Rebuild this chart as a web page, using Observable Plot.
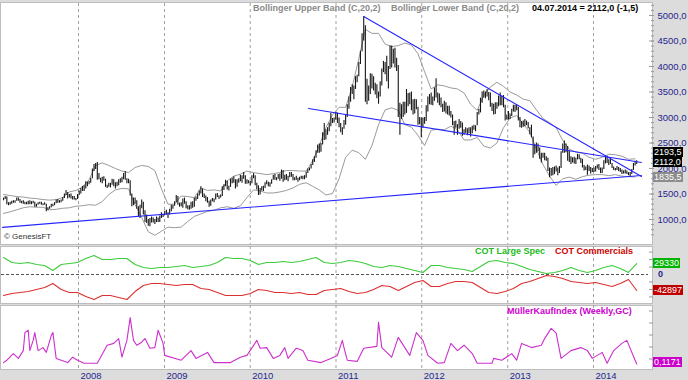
<!DOCTYPE html>
<html><head><meta charset="utf-8">
<script src="https://cdn.jsdelivr.net/npm/d3@7"></script>
<script src="https://cdn.jsdelivr.net/npm/@observablehq/plot@0.6"></script>
<style>
body{margin:0;background:#fff;font-family:"Liberation Sans",Arial,sans-serif}
#chart{position:relative;width:688px;height:380px;background:#dcdcdc;overflow:hidden}
.bg{position:absolute;left:0;width:653px;background:#fff;border:1px solid #bdbdbd;box-sizing:border-box}
.layer{position:absolute;left:0}
.t{position:absolute;white-space:nowrap;font-weight:bold;font-size:9px;line-height:10px}
.box{position:absolute;left:653px;height:10px;line-height:10px;font-size:9px;color:#fff;padding:0 1px;white-space:nowrap}
</style></head>
<body><div id="chart"></div>
<script>
// ---------- DATA ----------
const firstWeek = "2007-02-16";               // weekly bars, one per Friday
const weeklyLow = [
1370,1390,1290,1270,1280,1300,1320,1320,1360,1360,
1320,1310,1300,1290,1290,1290,1290,1290,1310,1240,
1240,1280,1300,1280,1270,1280,1150,1170,1200,1230,
1250,1270,1310,1320,1320,1330,1360,1410,1470,1400,
1420,1400,1380,1380,1370,1390,1470,1500,1550,1550,
1600,1640,1680,1710,1800,1940,1980,1770,1780,1720,
1700,1750,1630,1610,1630,1620,1670,1640,1600,1640,
1660,1710,1720,1780,1770,1700,1700,1460,1250,1270,
1300,1200,1050,1020,1210,1090,940,920,870,860,
930,930,900,940,940,940,1020,1040,1080,1090,
1020,1090,1150,1200,1260,1330,1280,1240,1250,1220,
1300,1210,1190,1180,1200,1220,1240,1360,1390,1460,
1500,1430,1410,1350,1320,1240,1260,1350,1330,1380,
1430,1390,1420,1450,1570,1640,1580,1560,1630,1700,
1710,1600,1630,1710,1740,1710,1790,1690,1690,1700,
1660,1700,1800,1660,1580,1470,1480,1560,1550,1610,
1680,1640,1630,1690,1770,1770,1760,1790,1750,1790,
1730,1760,1770,1740,1820,1830,1760,1760,1770,1730,
1760,1790,1780,1780,1810,1900,1950,1990,2060,2120,
2200,2300,2300,2320,2460,2550,2560,2650,2720,2820,
2880,2890,2950,2880,2800,2700,2650,2770,2850,3000,
3160,3300,3450,3350,3550,3680,3800,4040,4290,4500,
3300,3250,3320,3450,3560,3520,3440,3370,3260,3400,
3620,3880,3840,3700,3560,3940,3970,4050,3970,3900,
3000,2650,2960,3000,3050,3080,3210,3250,3130,3050,
3070,3150,2850,2860,2610,2790,2870,2920,3110,3250,
3240,3230,3320,3380,3280,3230,3190,3100,3110,3070,
3050,3030,2990,2840,2650,2790,2650,2770,2790,2630,
2650,2690,2640,2680,2620,2680,2750,2720,2840,3050,
3090,3280,3380,3370,3400,3330,3200,3120,3050,3060,
3160,3210,3230,3230,3190,2930,2950,2950,2960,3020,
3110,3100,3130,2930,2800,2790,2810,2820,2840,2780,
2660,2600,2200,2270,2300,2330,2180,2110,2200,2150,
2140,1940,1820,1850,1860,1880,1930,1860,1900,2000,
2300,2300,2310,2140,2120,2080,2110,2090,2080,2170,
2170,2100,2010,1950,1960,1870,1940,1890,1920,1920,
1930,1990,1960,1900,1900,1980,2090,2100,2060,2080,
2000,1960,1950,1960,1940,1920,1880,1890,1890,1880,
1860,1830,1880,1960,2050,2080];
const weeklyHigh = [
1420,1450,1440,1330,1340,1360,1370,1370,1420,1420,
1390,1360,1370,1340,1340,1360,1370,1350,1360,1340,
1300,1330,1340,1340,1310,1330,1300,1230,1250,1300,
1300,1330,1380,1390,1370,1380,1430,1500,1570,1530,
1490,1500,1450,1450,1410,1490,1560,1610,1650,1660,
1740,1730,1750,1810,1990,2080,2100,2120,1900,1810,
1830,1840,1790,1670,1710,1710,1790,1780,1720,1730,
1780,1800,1830,1900,1940,1800,1790,1760,1500,1420,
1420,1370,1250,1280,1380,1340,1170,1090,1000,1020,
1050,1030,1000,1050,1030,1070,1130,1100,1160,1180,
1130,1200,1280,1280,1350,1470,1450,1320,1330,1400,
1420,1350,1270,1270,1340,1350,1420,1440,1500,1560,
1640,1600,1500,1460,1430,1360,1380,1410,1400,1500,
1510,1460,1480,1640,1680,1770,1750,1650,1790,1810,
1840,1780,1780,1800,1870,1860,1920,1860,1780,1760,
1750,1860,1900,1860,1710,1660,1610,1640,1650,1720,
1760,1730,1720,1780,1870,1880,1820,1880,1890,1970,
1960,1870,1880,1850,1920,1920,1880,1820,1850,1810,
1830,1850,1850,1860,1930,1990,2010,2080,2170,2230,
2350,2460,2480,2490,2700,2880,2760,2800,2890,3080,
2980,2990,3100,3090,2990,2880,2800,2940,3050,3250,
3400,3590,3640,3620,3800,3830,4080,4300,4640,4980,
4800,3750,3620,3860,3850,3800,3670,3640,3500,3700,
3950,4100,4080,4200,4000,4400,4400,4340,4360,4160,
4020,3280,3250,3300,3300,3550,3470,3480,3500,3350,
3360,3350,3200,3000,2990,2990,3000,3230,3400,3450,
3480,3400,3580,3760,3480,3460,3380,3260,3320,3290,
3220,3220,3120,3050,2920,2930,2860,2960,2920,2890,
2760,2800,2780,2800,2800,2830,2850,2840,3100,3160,
3380,3500,3520,3500,3550,3490,3480,3280,3260,3290,
3290,3420,3480,3420,3430,3240,3050,3120,3070,3160,
3240,3240,3250,3200,3000,2920,2930,2960,2930,2900,
2800,2850,2620,2470,2500,2480,2400,2300,2300,2300,
2230,2200,2010,2000,2020,2030,2050,2010,2040,2330,
2480,2540,2480,2430,2350,2230,2210,2220,2200,2280,
2270,2200,2180,2060,2030,2070,2050,2020,2000,2010,
2040,2070,2080,2010,2010,2150,2230,2240,2170,2180,
2100,2030,2000,2040,2020,2000,1970,1950,1970,1950,
1920,1920,1980,2100,2140,2150];

// Bollinger bands (C,20,2), one value every 4 weeks
const bandStepWeeks = 4;
const bollUpper = [
1490,1470,1450,1440,1420,1410,1390,1380,1390,1430,
1540,1570,1640,1780,2060,2110,2060,2000,1950,1920,
2020,2060,2040,1960,1600,1300,1300,1460,1450,1430,
1620,1570,1580,1560,1760,1850,1890,1950,1920,1900,
1880,1900,1920,1960,1960,1950,1950,2150,2450,2800,
3050,3200,3200,3600,4150,4730,4650,4650,4440,4390,
4410,4460,4420,4250,3900,3560,3640,3620,3580,3560,
3480,3260,3140,3430,3600,3690,3610,3500,3440,3360,
3330,3150,2980,2900,2800,2550,2380,2320,2300,2220,
2180,2220,2280,2270,2240,2180,2190];
const bollLower = [
1120,1150,1190,1230,1250,1240,1240,1190,1200,1220,
1230,1260,1270,1290,1280,1350,1490,1580,1610,1600,
1290,1040,760,690,770,850,840,850,960,1060,
1110,1160,1180,1230,1250,1220,1270,1430,1580,1560,
1520,1520,1540,1570,1620,1690,1720,1650,1580,1480,
1510,1800,2220,2360,2310,2180,2450,2860,3150,3190,
3140,2860,2810,2650,2450,2750,2770,2760,2830,2760,
2560,2560,2610,2440,2400,2500,2800,2990,3040,2870,
2710,2380,2080,1850,1670,1800,1830,1790,1840,1870,
1880,1880,1860,1880,1850,1840,1835];

// trend lines: start / end
const trendNames  = ["support", "middle", "resistance"];
const trendStart  = ["2007-02-12", "2010-09-06", "2011-04-29"];
const trendEnd    = ["2014-07-24", "2014-07-24", "2014-07-24"];
const trendStartV = [845, 3177, 4980];
const trendEndV   = [1864, 2119, 1844];

// COT, one value every 5 weeks
const cotStepWeeks = 5;
const cotLargeSpec = [
45600,32200,29500,32200,26800,24100,10700,26800,29500,32200,
42900,50900,40200,40200,42900,42900,26800,18800,16100,18800,
18800,21400,24100,18800,21400,24100,32200,45600,42900,42900,
37500,26800,32200,32200,34800,32200,34800,40200,45600,32200,
29500,32200,37500,34800,29500,21400,18800,24100,21400,16100,
10700,5400,24100,24100,18800,16100,13400,8000,21400,34800,
37500,32200,29500,21400,13400,8000,2700,5400,10700,18800,
10700,5400,10700,18800,24100,16100,5400,29330];
const cotCommercials = [
-56300,-50900,-48200,-45600,-40200,-34800,-24100,-40200,-48200,-48200,
-59000,-67000,-56300,-56300,-61600,-67000,-45600,-29500,-24100,-24100,
-26800,-29500,-26800,-26800,-37500,-40200,-48200,-56300,-56300,-56300,
-50900,-40200,-42900,-48200,-48200,-50900,-48200,-53600,-53600,-42900,
-40200,-37500,-45600,-50900,-48200,-40200,-29500,-32200,-42900,-32200,
-21400,-16100,-32200,-32200,-24100,-18800,-18800,-21400,-34800,-48200,
-50900,-45600,-37500,-24100,-18800,-10700,-2700,-5400,-10700,-18800,
-21400,-24100,-21400,-26800,-32200,-24100,-13400,-42897];

// Müller Kauf Index: week number / value
const mullerWeek = [0,2,6,9,12,13,15,16,18,19,21,24,26,29,30,32,39,42,45,49,57,63,67,70,72,75,77,79,81,84,86,89,92,94,97,98,108,114,117,124,128,138,144,148,154,156,160,164,168,171,173,178,182,185,193,199,203,206,207,209,215,219,227,228,230,236,240,244,247,251,255,258,264,268,272,276,280,285,288,297,298,303,309,312,315,321,327,329,333,336,339,345,351,355,358,364,367,371,376,379,384,385];
const mullerValue = [.14,.18,.29,.21,.34,.64,.68,.34,.51,.64,.34,.39,.31,.59,.64,.21,.14,.23,.18,.13,.13,.43,.46,.54,.23,.51,.89,.51,.43,.48,.54,.38,.39,.68,.46,.26,.18,.34,.21,.31,.14,.14,.23,.26,.51,.38,.39,.21,.26,.39,.21,.38,.34,.18,.14,.21,.26,.51,.39,.18,.16,.38,.41,.81,.39,.23,.56,.39,.26,.64,.51,.26,.13,.14,.46,.34,.43,.29,.13,.13,.21,.18,.29,.18,.46,.39,.43,.54,.71,.63,.21,.34,.39,.34,.21,.31,.13,.34,.46,.51,.18,.1171];

// axis ticks & labels
const yearTicks = ["2008","2009","2010","2011","2012","2013","2014"];
const priceTicks = [1000,1500,2000,2500,3000,3500,4000,4500,5000];
const priceMinorTicks = d3.range(700, 5201, 100);
const lastLabels = {upper: 2193.5, close: 2112.0, lower: 1835.5, spec: 29330, comm: -42897, muller: 0.1171};
const headerTexts = ["Bollinger Upper Band (C,20,2)", "Bollinger Lower Band (C,20,2)", "04.07.2014 = 2112,0 (-1,5)"];

// ---------- BUILD ----------
const day = 864e5;
const w0 = new Date(firstWeek + "T00:00:00Z").getTime();
const weekDate = i => new Date(w0 + i * 7 * day);
const bars = weeklyLow.map((lo, i) => ({date: weekDate(i), low: lo, high: weeklyHigh[i]}));
const upper = bollUpper.map((v, k) => ({date: weekDate(k * bandStepWeeks), v}));
const lower = bollLower.map((v, k) => ({date: weekDate(k * bandStepWeeks), v}));
const trends = [];
trendNames.forEach((n, j) => {
  trends.push({id: n, date: new Date(trendStart[j]), v: trendStartV[j]});
  trends.push({id: n, date: new Date(trendEnd[j]), v: trendEndV[j]});
});
const cot = [];
cotLargeSpec.forEach((v, k) => cot.push({s: "spec", date: weekDate(Math.min(k * cotStepWeeks, weeklyLow.length - 1)), v}));
cotCommercials.forEach((v, k) => cot.push({s: "comm", date: weekDate(Math.min(k * cotStepWeeks, weeklyLow.length - 1)), v}));
const muller = mullerWeek.map((w, k) => ({date: weekDate(w), v: mullerValue[k]}));
const years = yearTicks.map(y => new Date(y + "-01-01T00:00:00Z"));

const xOpt = {type: "utc", domain: [years[0], years[6]], range: [78, 593]};
const FONT = "Liberation Sans, Arial, sans-serif";
const fmt1 = d => d.toFixed(1).replace(".", ",");
const NAVY = "#26268c";

const chart = document.getElementById("chart");
function addBg(top, h) {
  const d = document.createElement("div"); d.className = "bg";
  d.style.top = top + "px"; d.style.height = h + "px"; chart.appendChild(d);
}
function addLayer(svg, top) {
  svg.classList.add("layer"); svg.style.top = top + "px"; chart.appendChild(svg);
}
function addBox(text, yc, bg, color) {
  const d = document.createElement("div"); d.className = "box";
  d.textContent = text; d.style.background = bg; if (color) d.style.color = color;
  d.style.top = Math.round(yc - 5) + "px"; chart.appendChild(d); return d;
}
function addText(text, left, top, color, size) {
  const d = document.createElement("div"); d.className = "t";
  d.textContent = text; d.style.left = left + "px"; d.style.top = top + "px"; d.style.color = color;
  if (size) d.style.fontSize = size + "px";
  chart.appendChild(d); return d;
}

addBg(2, 243); addBg(246, 58); addBg(305, 65);

// price panel (svg top = 0)
const pricePlot = Plot.plot({
  width: 688, height: 244, marginTop: 3, marginBottom: 0, marginLeft: 1, marginRight: 40,
  x: {...xOpt, axis: null},
  y: {domain: [1000, 5000], range: [219, 15], axis: null},
  style: {background: "transparent", fontFamily: FONT, overflow: "visible"},
  marks: [
    Plot.ruleX(years, {stroke: "#a0a0a0", strokeDasharray: "3,3"}),
    Plot.line(upper, {x: "date", y: "v", stroke: "#9a9a9a", strokeWidth: 1}),
    Plot.line(lower, {x: "date", y: "v", stroke: "#9a9a9a", strokeWidth: 1}),
    Plot.ruleX(bars, {x: "date", y1: "low", y2: "high", stroke: "#161616", strokeWidth: 1.1}),
    Plot.line(trends, {x: "date", y: "v", z: "id", stroke: "#2424ff", strokeWidth: 1.1}),
    Plot.axisY({anchor: "right", label: null, ticks: priceMinorTicks, tickSize: 3, dx: 2, tickFormat: () => "", stroke: "#9a9a9a"}),
    Plot.axisY({anchor: "right", label: null, ticks: priceTicks, tickSize: 5, tickPadding: 4, tickFormat: fmt1,
      fontSize: 9.5, fill: NAVY, stroke: "#9a9a9a"})
  ]
});
addLayer(pricePlot, 0);

// COT panel
const cotTop = 246, cotH = 58;
const cotPlot = Plot.plot({
  width: 688, height: cotH, marginTop: 0, marginBottom: 0, marginLeft: 1, marginRight: 40,
  x: {...xOpt, axis: null},
  y: {domain: [-75000, 75000], range: [302 - cotTop, 246 - cotTop], axis: null},
  color: {domain: ["spec", "comm"], range: ["#3ccc3c", "#dd3030"]},
  style: {background: "transparent", fontFamily: FONT, overflow: "visible"},
  marks: [
    Plot.ruleX(years, {stroke: "#a0a0a0", strokeDasharray: "3,3"}),
    Plot.ruleY([0], {stroke: "#555", strokeDasharray: "3,2"}),
    Plot.line(cot, {x: "date", y: "v", z: "s", stroke: "s", strokeWidth: 1.1}),
    Plot.axisY({anchor: "right", label: null, ticks: [-60000, -40000, -20000, 20000, 40000, 60000], tickSize: 4, tickFormat: () => "", stroke: "#9a9a9a"})
  ]
});
addLayer(cotPlot, cotTop);

// Müller panel + x axis
const mTop = 305;
const mPlot = Plot.plot({
  width: 688, height: 380 - mTop, marginTop: 0, marginBottom: 11, marginLeft: 1, marginRight: 40,
  x: {...xOpt},
  y: {domain: [0, 1], range: [370.5 - mTop, 310.5 - mTop], axis: null},
  style: {background: "transparent", fontFamily: FONT, overflow: "visible"},
  marks: [
    Plot.ruleX(years, {stroke: "#a0a0a0", strokeDasharray: "3,3"}),
    Plot.line(muller, {x: "date", y: "v", stroke: "#cc30cc", strokeWidth: 1.1}),
    Plot.axisY({anchor: "right", label: null, ticks: [0.2, 0.4, 0.6, 0.8, 1.0], tickSize: 4, tickFormat: () => "", stroke: "#9a9a9a"}),
    Plot.axisX({anchor: "bottom", label: null, ticks: years, tickSize: 0, tickPadding: 3, tickFormat: d3.utcFormat("%Y"),
      textAnchor: "start", dx: 2, fontSize: 9.5, fill: NAVY})
  ]
});
addLayer(mPlot, mTop);

// header texts
addText(headerTexts[0], 253, 3, "#8a8a8a");
addText(headerTexts[1], 391, 3, "#8a8a8a");
addText(headerTexts[2], 532, 3, "#000");
addText("COT Large Spec", 475, 246, "#22bb22");
addText("COT Commercials", 555, 246, "#cc0000");
addText("MüllerKaufIndex (Weekly,GC)", 507, 306, "#cc00cc");
const gen = addText("© GenesisFT", 4, 232, "#333", 8); gen.style.fontWeight = "normal";

// right value boxes (positions from the library scales)
const py = pricePlot.scale("y"), cy = cotPlot.scale("y"), my = mPlot.scale("y");
const closeY = py.apply(lastLabels.close);
addBox(fmt1(lastLabels.upper), closeY - 10, "#000");
addBox(fmt1(lastLabels.close), closeY, "#000");
addBox(fmt1(lastLabels.lower), Math.max(py.apply(lastLabels.lower), closeY + 10) + 0.5, "#8c8c8c");
addBox(String(lastLabels.spec), cotTop + cy.apply(lastLabels.spec), "#00b400");
addText("0", 658, cotTop + cy.apply(0) - 5, NAVY, 9);
addBox(String(lastLabels.comm), cotTop + cy.apply(lastLabels.comm), "#c00000");
addBox(String(lastLabels.muller).replace(".", ","), mTop + my.apply(lastLabels.muller) - 1, "#cc00cc");
</script></body></html>
